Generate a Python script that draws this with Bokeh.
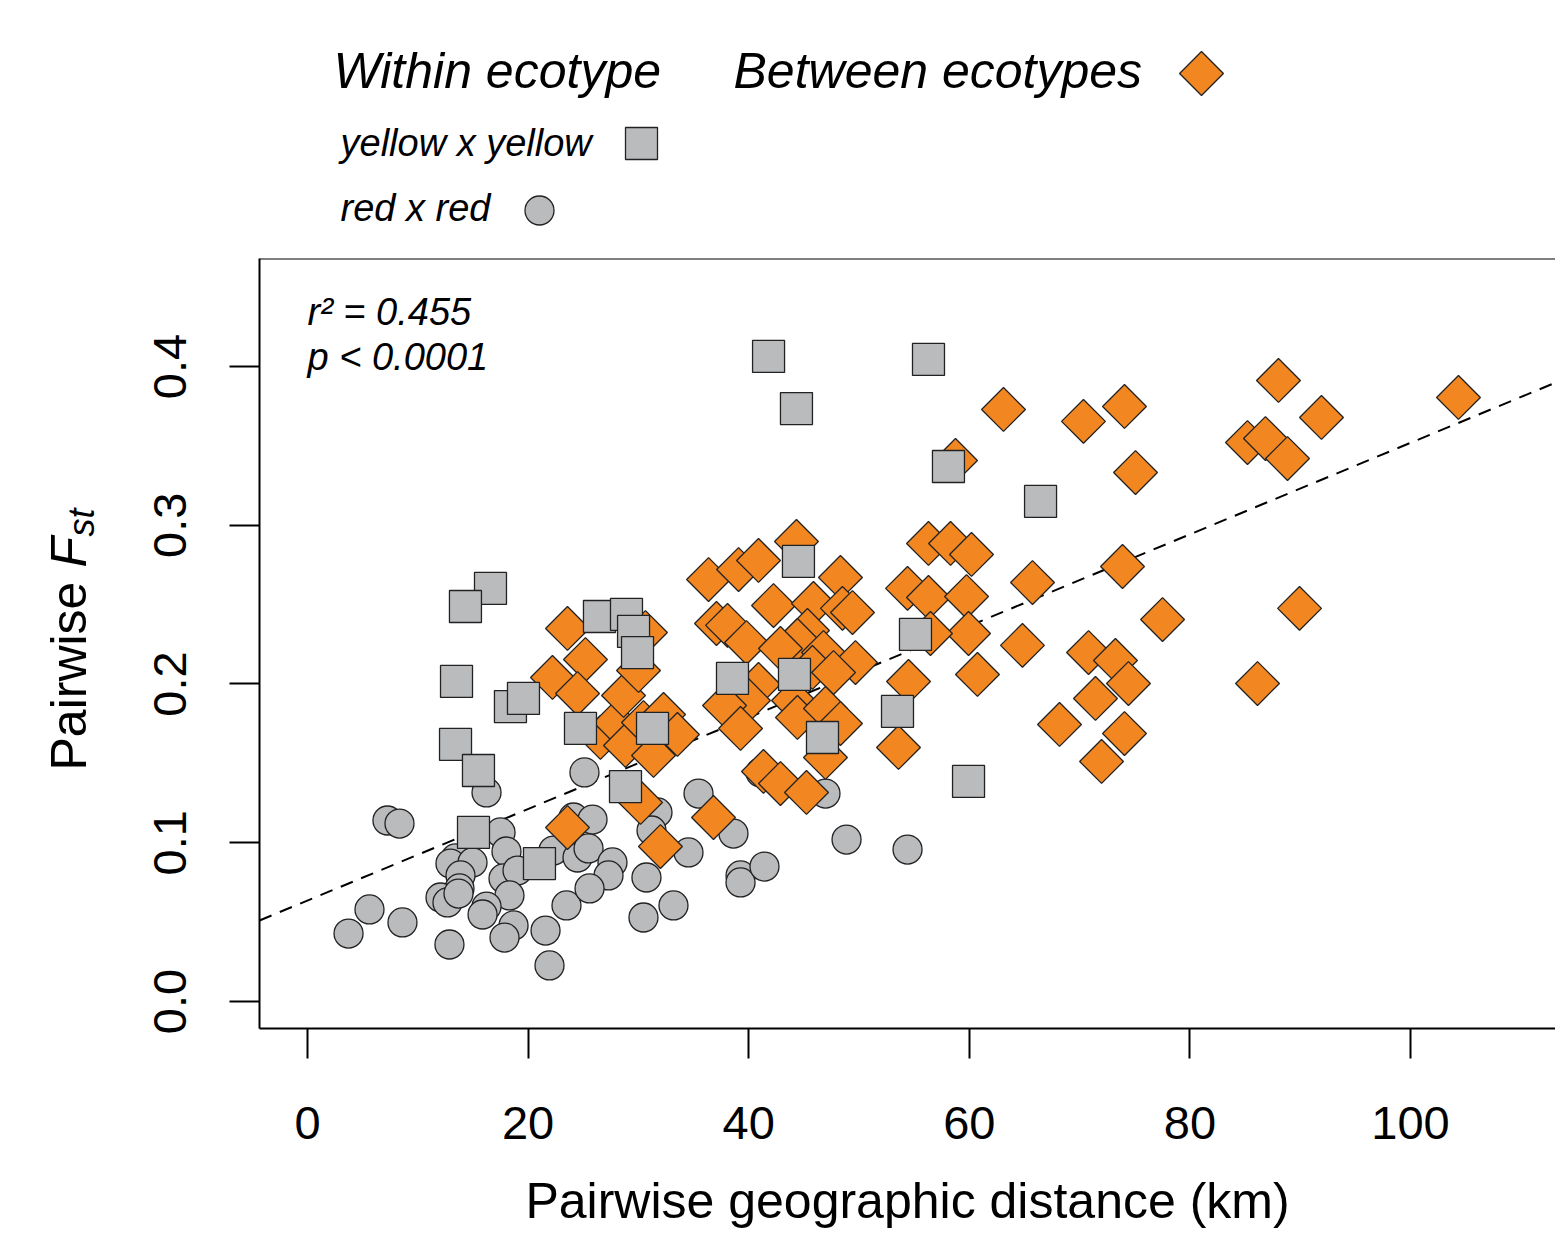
import numpy as np
from bokeh.plotting import figure
from bokeh.models import Range1d, FixedTicker, PrintfTickFormatter, Label, Span
from bokeh.layouts import column, row
from bokeh.embed import file_html
from bokeh.resources import INLINE

# ---------------- data ----------------
# red x red (within ecotype)
rr_x = [3.72, 5.62, 7.25, 8.34, 8.61, 12.87, 16.23, 17.50, 18.04, 13.42, 12.96, 14.96,
        13.87, 13.78, 12.06, 12.69, 13.69, 17.77, 19.04, 18.31, 16.23, 15.87, 18.68, 17.86,
        21.58, 21.94, 23.48, 22.30, 24.12, 24.48, 25.11, 25.84, 25.48, 27.65, 27.29, 25.57,
        31.73, 31.19, 30.73, 30.46, 33.18, 34.54, 35.45, 38.62, 39.26, 39.26, 41.43, 41.07,
        46.96, 48.87, 54.40]
rr_y = [0.0428, 0.0580, 0.1140, 0.1121, 0.0498, 0.0359, 0.1317, 0.1065, 0.0945, 0.0901, 0.0869, 0.0876,
        0.0794, 0.0712, 0.0655, 0.0624, 0.0680, 0.0775, 0.0825, 0.0668, 0.0598, 0.0548, 0.0479, 0.0403,
        0.0447, 0.0227, 0.0605, 0.0951, 0.1159, 0.0907, 0.1443, 0.1146, 0.0964, 0.0876, 0.0794, 0.0712,
        0.1191, 0.1077, 0.0781, 0.0529, 0.0605, 0.0939, 0.1310, 0.1058, 0.0794, 0.0750, 0.0850, 0.1443,
        0.1310, 0.1020, 0.0957]

# yellow x yellow (within ecotype)
yy_x = [41.80, 56.30, 44.33, 58.11, 66.46, 44.51, 16.59, 14.32, 26.47, 28.92, 29.56, 29.92,
        55.12, 13.51, 18.40, 19.58, 38.53, 44.15, 24.75, 31.28, 13.42, 15.50, 53.49, 46.69,
        15.05, 21.03, 28.83, 59.93]
yy_y = [0.4063, 0.4044, 0.3735, 0.3370, 0.3150, 0.2772, 0.2602, 0.2488, 0.2425, 0.2438, 0.2331, 0.2198,
        0.2312, 0.2016, 0.1858, 0.1909, 0.2035, 0.2060, 0.1720, 0.1720, 0.1619, 0.1455, 0.1827, 0.1663,
        0.1065, 0.0869, 0.1354, 0.1386]

# between ecotypes
bt_x = [22.21, 23.57, 25.20, 24.48, 26.56, 27.92, 28.65, 30.01, 30.64, 28.83, 30.46, 31.37,
        32.28, 33.54, 30.19, 32.00, 23.57, 36.81, 36.36, 39.08, 40.89, 44.33, 37.08, 38.08,
        39.80, 42.25, 45.87, 48.32, 48.50, 49.41, 45.33, 44.42, 42.88, 46.78, 45.78, 49.68,
        47.69, 40.89, 39.98, 37.81, 39.26, 44.06, 44.42, 46.96, 48.32, 46.96, 41.34, 42.88,
        45.24, 63.10, 70.35, 74.07, 75.07, 58.75, 56.30, 58.30, 60.20, 54.40, 56.30, 59.75,
        65.73, 73.89, 77.52, 54.49, 59.93, 56.48, 60.74, 64.82, 70.81, 73.25, 74.43, 71.44,
        68.18, 74.07, 71.99, 53.58, 88.03, 91.93, 85.22, 86.85, 88.85, 104.35, 89.94, 86.13]
bt_y = [0.2041, 0.2350, 0.2154, 0.1940, 0.1663, 0.1757, 0.1928, 0.2085, 0.2324, 0.1613, 0.1757, 0.1550,
        0.1808, 0.1682, 0.1254, 0.0976, 0.1096, 0.1159, 0.2658, 0.2721, 0.2778, 0.2898, 0.2381, 0.2369,
        0.2261, 0.2494, 0.2507, 0.2671, 0.2476, 0.2450, 0.2337, 0.2274, 0.2224, 0.2198, 0.2104, 0.2135,
        0.2072, 0.1997, 0.1896, 0.1865, 0.1720, 0.1896, 0.1789, 0.1846, 0.1751, 0.1537, 0.1449, 0.1373,
        0.1317, 0.3729, 0.3654, 0.3748, 0.3332, 0.3408, 0.2885, 0.2885, 0.2816, 0.2602, 0.2545, 0.2551,
        0.2639, 0.2740, 0.2406, 0.2016, 0.2318, 0.2318, 0.2060, 0.2243, 0.2198, 0.2148, 0.2003, 0.1909,
        0.1745, 0.1688, 0.1512, 0.1600, 0.3912, 0.3679, 0.3521, 0.3546, 0.3420, 0.3805, 0.2476, 0.2003]

fit_intercept = 0.0636
fit_slope = 0.002883
r2_text = "r\u00b2 = 0.455"
p_text = "p < 0.0001"

x_ticks = [0, 20, 40, 60, 80, 100]
y_ticks = [0.0, 0.1, 0.2, 0.3, 0.4]

x_label = "Pairwise geographic distance (km)"
y_label = ["Pairwise", "F", "st"]
legend_head = ["Within ecotype", "Between ecotypes"]
legend_sub = ["yellow x yellow", "red x red"]

# ---------------- styles / layout ----------------
FONT = "Liberation Sans"
ORANGE = "#F28722"
GRAY = "#BABBBD"
EDGE = "#222222"
W = 1555
LEFT = 259           # frame left (px on page)
YL_W = 120           # width of the y-title strip
LEG_H = 238
TOP_B = 20
BOT_B = 204
MAIN_H = TOP_B + 770 + BOT_B
X0 = -4.352
X1 = X0 + (W - LEFT) / 11.03
Y0, Y1 = -0.0170, 0.4680

# ---------------- legend strip ----------------
leg = figure(width=W, height=LEG_H, x_range=Range1d(0, W), y_range=Range1d(LEG_H, 0),
             output_backend="svg", toolbar_location=None, min_border=0,
             x_axis_location=None, y_axis_location=None, outline_line_color=None)
leg.grid.visible = False

def leg_label(x, y, text, size):
    leg.add_layout(Label(x=x, y=y, text=text, text_font=FONT, text_font_style="italic",
                         text_font_size=size, text_baseline="middle", text_align="left",
                         text_color="black"))

leg_label(333, 70, legend_head[0], "50px")
leg_label(733, 70, legend_head[1], "50px")
leg_label(340, 142, legend_sub[0], "38px")
leg_label(340, 207, legend_sub[1], "38px")
leg.scatter([1201], [73], marker="square", angle=np.pi / 4, size=31,
            fill_color=ORANGE, line_color=EDGE, line_width=1.3)
leg.scatter([641], [143], marker="square", size=32,
            fill_color=GRAY, line_color=EDGE, line_width=1.3)
leg.scatter([539], [210], marker="circle", size=29,
            fill_color=GRAY, line_color=EDGE, line_width=1.3)

# ---------------- y-title strip ----------------
ylab = figure(width=YL_W, height=MAIN_H, x_range=Range1d(0, YL_W), y_range=Range1d(Y0, Y1),
              output_backend="svg", toolbar_location=None, min_border_left=0, min_border_right=0,
              min_border_top=TOP_B, min_border_bottom=BOT_B,
              x_axis_location=None, y_axis_location=None, outline_line_color=None)
ylab.grid.visible = False

def ytitle(x, y, text, size, style):
    ylab.add_layout(Label(x=x, y=y, text=text, angle=np.pi / 2, text_font=FONT,
                          text_font_style=style, text_font_size=size,
                          text_baseline="middle", text_align="left", text_color="black"))

ytitle(68, 0.1455, y_label[0], "50px", "normal")
ytitle(68, 0.2734, y_label[1], "50px", "italic")
ytitle(81, 0.2929, y_label[2], "36px", "italic")

# ---------------- main plot ----------------
p = figure(width=W - YL_W, height=MAIN_H, x_range=Range1d(X0, X1), y_range=Range1d(Y0, Y1),
           output_backend="svg", toolbar_location=None,
           min_border_left=LEFT - YL_W, min_border_right=0,
           min_border_top=TOP_B, min_border_bottom=BOT_B,
           outline_line_color=None)
p.grid.visible = False

xs = np.array([X0, X1])
p.line(xs, fit_intercept + fit_slope * xs, line_color="black", line_width=2, line_dash="13 9")

p.scatter(rr_x, rr_y, marker="circle", size=29, fill_color=GRAY, line_color=EDGE, line_width=1.3)
p.scatter(bt_x, bt_y, marker="square", angle=np.pi / 4, size=31, fill_color=ORANGE,
          line_color=EDGE, line_width=1.3)
p.scatter(yy_x, yy_y, marker="square", size=32, fill_color=GRAY, line_color=EDGE, line_width=1.3)

p.add_layout(Span(location=Y1, dimension="width", line_color="black", line_width=2))

for ax in (p.xaxis, p.yaxis):
    ax.axis_line_width = 2
    ax.axis_line_color = "black"
    ax.major_tick_line_width = 2
    ax.major_tick_line_color = "black"
    ax.major_tick_out = 30
    ax.major_tick_in = 0
    ax.minor_tick_line_color = None
    ax.major_label_text_font = FONT
    ax.major_label_text_font_size = "47px"
    ax.major_label_text_color = "black"

p.xaxis.ticker = FixedTicker(ticks=x_ticks)
p.yaxis.ticker = FixedTicker(ticks=y_ticks)
p.yaxis.formatter = PrintfTickFormatter(format="%.1f")
p.yaxis.major_label_orientation = "vertical"
p.xaxis.major_label_standoff = 48
p.yaxis.major_label_standoff = 43

p.xaxis.axis_label = x_label
p.xaxis.axis_label_text_font = FONT
p.xaxis.axis_label_text_font_size = "50px"
p.xaxis.axis_label_text_font_style = "normal"
p.xaxis.axis_label_text_color = "black"
p.xaxis.axis_label_standoff = 31

# fit statistics
p.add_layout(Label(x=0.0, y=0.4346, text=r2_text, text_font=FONT, text_font_style="italic",
                   text_font_size="38px", text_baseline="middle", text_align="left",
                   text_color="black"))
p.add_layout(Label(x=0.0, y=0.4057, text=p_text, text_font=FONT, text_font_style="italic",
                   text_font_size="38px", text_baseline="middle", text_align="left",
                   text_color="black"))

layout = column(leg, row(ylab, p))
open("out.html", "w").write(file_html(layout, INLINE))
